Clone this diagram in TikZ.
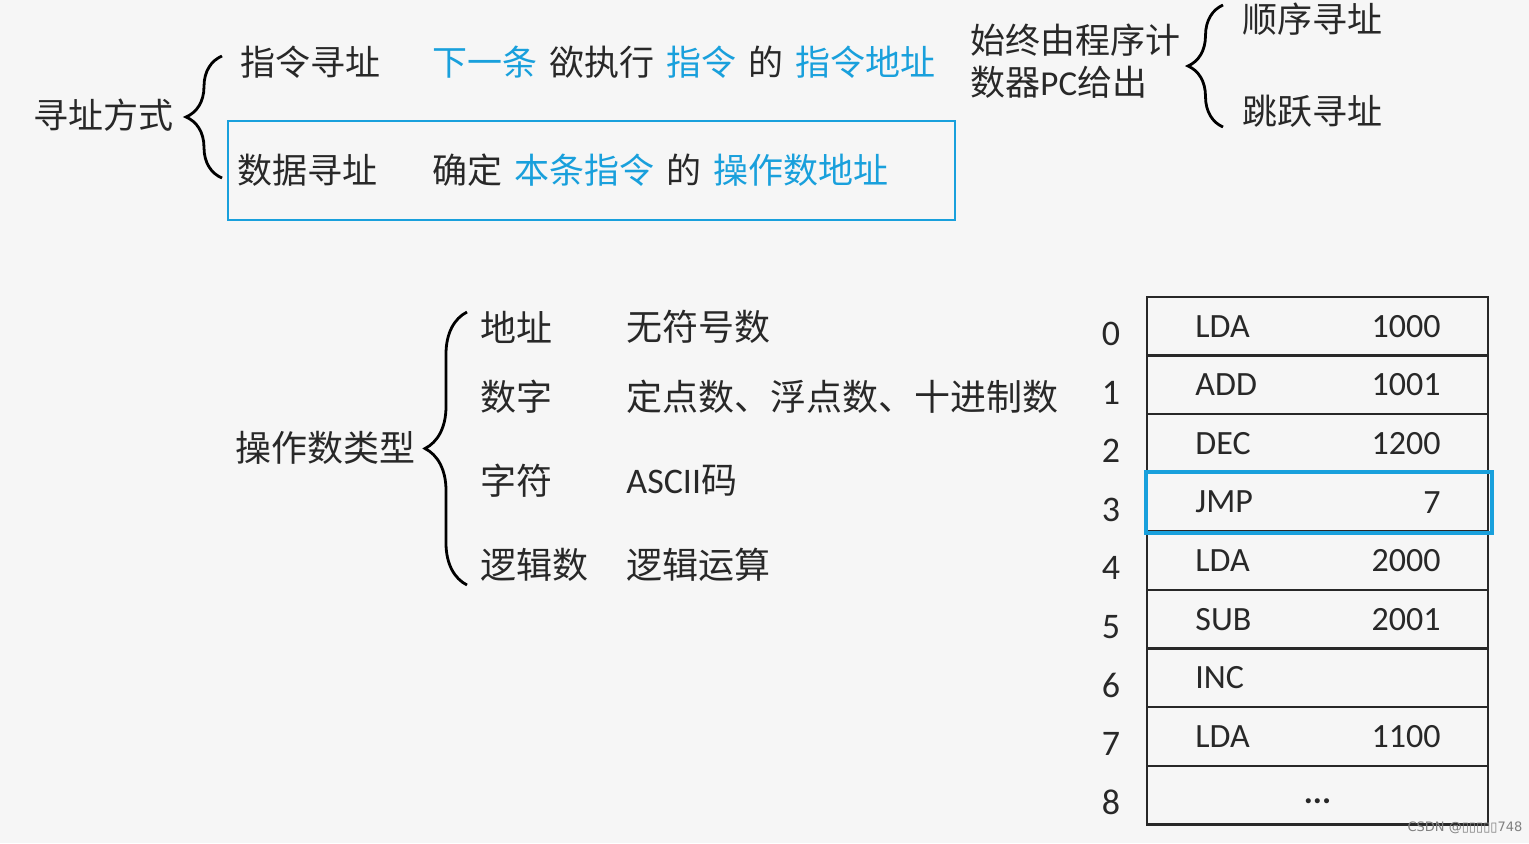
\documentclass[tikz,border=0pt]{standalone}
\usepackage{fontspec}
\setmainfont{Carlito}
\newfontfamily\cjk{Noto Sans CJK SC}
\newfontfamily\dvs{DejaVu Sans}
\usetikzlibrary{decorations.pathreplacing}
\definecolor{bg}{RGB}{246,246,246}
\definecolor{ink}{RGB}{40,40,40}
\definecolor{hl}{RGB}{25,160,220}
\newcommand{\blu}[1]{\textcolor{hl}{#1}}
\newcommand{\gap}{\hspace{0.34em}}
\newcommand{\brc}[4]{\draw[line width=1.4pt, decorate, decoration={brace, amplitude=#4}] (#1,#3) -- (#1,#2);}

\begin{document}
\begin{tikzpicture}[x=0.5pt, y=-0.5pt,
  tx/.style={font=\cjk\fontsize{17.5}{21}\selectfont, text=ink, anchor=west, inner sep=0pt},
  tx2/.style={tx, font=\cjk\fontsize{18}{21}\selectfont},
  op/.style={font=\fontsize{17}{20}\selectfont, text=ink, inner sep=0pt},
  idx/.style={font=\fontsize{18}{21}\selectfont, text=ink, inner sep=0pt},
  cell/.style={draw=ink, line width=1.2pt, minimum width=170.5pt, minimum height=29.3pt, inner sep=0pt}]
\fill[bg] (0,0) rectangle (1529,843);
\useasboundingbox (0,0) rectangle (1529,843);

% addressing
\node[tx] (ways) at (33,115) {寻址方式};
\brc{222}{56}{178}{18pt}
\node[tx] (ins) at (240,62) {指令寻址};
\node[tx] (insd) at (432,62) {\blu{下一条}\gap 欲执行\gap \blu{指令}\gap 的\gap \blu{指令地址}};
\draw[hl, line width=1pt] (228,121) rectangle (955,220);
\node[tx] (dat) at (237,170) {数据寻址};
\node[tx] (datd) at (432,170) {确定\gap \blu{本条指令}\gap 的\gap \blu{操作数地址}};
\node[tx, align=left, anchor=north west] (pc) at (970,24) {始终由程序计\\数器{\rmfamily PC}给出};
\brc{1223}{5}{127}{17.5pt}
\node[tx] (seq) at (1242,19) {顺序寻址};
\node[tx] (jmp) at (1242,111) {跳跃寻址};

% operand types
\node[tx2] (types) at (235,448) {操作数类型};
\brc{467}{312}{585}{21pt}
\foreach \k/\v/\y in {地址/无符号数/327, 数字/定点数、浮点数、十进制数/397, 字符/{{\rmfamily ASCII}码}/481, 逻辑数/逻辑运算/565}
{
  \node[tx2] at (480,\y) {\k};
  \node[tx2] at (626,\y) {\v};
}

% memory
\foreach \o/\d [count=\i from 0] in {LDA/1000, ADD/1001, DEC/1200, JMP/7, LDA/2000, SUB/2001, INC/, LDA/1100, /}
{
  \node[cell] (r\i) at (1317.5,{297+58.6*\i+29.3}) {};
  \node[idx] (n\i) at (1111,{297+58.6*\i+37}) {\i};
  \node[op, anchor=west] (o\i) at (1195,{297+58.6*\i+29.3}) {\o};
  \node[op, anchor=east] (d\i) at (1441,{297+58.6*\i+29.3}) {\d};
}
\node[op, font=\bfseries\fontsize{17}{20}\selectfont] (more) at ([yshift=-3pt]r8.center) {...};
\draw[hl, line width=2pt] (r3.south west) rectangle ([xshift=1.5pt]r3.north east);

\node[font=\dvs\fontsize{6.5}{8}\selectfont, text=gray] (wm) at (1465,828) {CSDN @▯▯▯▯▯748};
\end{tikzpicture}
\end{document}
